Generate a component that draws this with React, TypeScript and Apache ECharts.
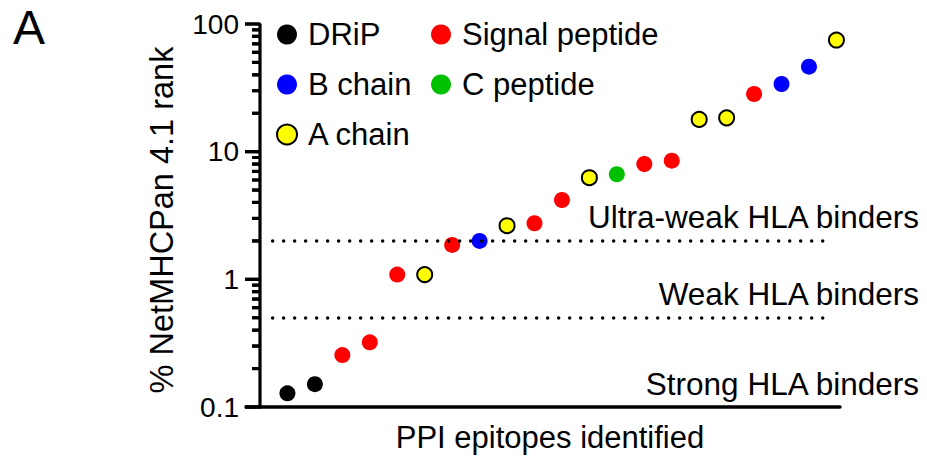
import React, { useEffect, useRef } from "react";
import * as echarts from "echarts";

const epitopeIndex = [1, 2, 3, 4, 5, 6, 7, 8, 9, 10, 11, 12, 13, 14, 15, 16, 17, 18, 19, 20, 21];
const rankValues = [0.128, 0.151, 0.255, 0.321, 1.09, 1.09, 1.86, 2.0, 2.63, 2.75, 4.18, 6.25, 6.65, 8.0, 8.5, 17.9, 18.4, 28.3, 33.9, 46.3, 74.9];
const regions = [
  "DRiP", "DRiP", "Signal peptide", "Signal peptide", "Signal peptide", "A chain",
  "Signal peptide", "B chain", "A chain", "Signal peptide", "Signal peptide", "A chain",
  "C peptide", "Signal peptide", "Signal peptide", "A chain", "A chain", "Signal peptide",
  "B chain", "B chain", "A chain",
];
const groupNames = ["DRiP", "B chain", "A chain", "Signal peptide", "C peptide"];
const groupColors = ["#000000", "#0000ff", "#ffff00", "#ff0000", "#00c000"];
const thresholds = [2, 0.5];
const majorTickValues = [0.1, 1, 10, 100];
const minorTickValues = [0.2, 0.3, 0.4, 0.5, 0.6, 0.7, 0.8, 0.9, 2, 3, 4, 5, 6, 7, 8, 9, 20, 30, 40, 50, 60, 70, 80, 90];
const yTickLabels = ["0.1", "1", "10", "100"];

const FONT = "'Liberation Sans', Arial, Helvetica, sans-serif";

// x-axis starts a little left of the y axis (x = 0) so the outward ticks fit in the grid
const X_MIN = -0.51;

export default function App() {
  const ref = useRef<HTMLDivElement>(null);
  useEffect(() => {
    if (!ref.current) return;
    const chart = echarts.init(ref.current, null, { renderer: "svg" });
    const groupSeries = groupNames.map((name, gi) => ({
      name,
      type: "scatter",
      symbol: "circle",
      symbolSize: name === "A chain" ? 15 : 16,
      itemStyle: {
        color: groupColors[gi],
        opacity: 1,
        borderColor: name === "A chain" ? "#000" : groupColors[gi],
        borderWidth: name === "A chain" ? 2 : 0,
      },
      data: epitopeIndex
        .map((x, i) => (regions[i] === name ? [x, rankValues[i]] : null))
        .filter((d) => d !== null),
      z: 3,
    }));
    const legendBase = {
      orient: "vertical",
      top: 19,
      padding: 0,
      itemGap: 19,
      itemWidth: 20,
      itemHeight: 20,
      icon: "circle",
      selectedMode: false,
      textStyle: { fontSize: 31, color: "#000", fontFamily: FONT, padding: [0, 0, 0, 6] },
    };
    const staticGraphics: any[] = [
      {
        type: "text",
        left: 13,
        top: 3,
        style: { text: "A", fontSize: 48, fill: "#000", fontFamily: FONT },
      },
      {
        type: "text",
        x: 162,
        y: 220,
        rotation: Math.PI / 2,
        style: {
          text: "% NetMHCPan 4.1 rank",
          fontSize: 32.5,
          fill: "#000",
          fontFamily: FONT,
          align: "center",
          verticalAlign: "middle",
        },
      },
      {
        type: "text",
        x: 919,
        y: 217,
        style: { text: "Ultra-weak HLA binders", fontSize: 31.5, fill: "#000", fontFamily: FONT, align: "right", verticalAlign: "middle" },
      },
      {
        type: "text",
        x: 919,
        y: 294,
        style: { text: "Weak HLA binders", fontSize: 31.5, fill: "#000", fontFamily: FONT, align: "right", verticalAlign: "middle" },
      },
      {
        type: "text",
        x: 919,
        y: 384,
        style: { text: "Strong HLA binders", fontSize: 31.5, fill: "#000", fontFamily: FONT, align: "right", verticalAlign: "middle" },
      },
    ];
    const option: any = {
      animation: false,
      textStyle: { fontFamily: FONT },
      grid: { left: 246, right: 87, top: 24, bottom: 53 },
      legend: [
        { ...legendBase, data: ["DRiP", "B chain", "A chain"], left: 276 },
        { ...legendBase, data: ["Signal peptide", "C peptide"], left: 431 },
      ],
      xAxis: {
        type: "value",
        min: X_MIN,
        max: 21.13,
        name: "PPI epitopes identified",
        nameLocation: "middle",
        nameGap: 15,
        nameTextStyle: { fontSize: 31, color: "#000", fontFamily: FONT, padding: [0, 0, 0, 14] },
        axisLine: { show: true, onZero: false, lineStyle: { color: "#000", width: 3.5 } },
        axisTick: { show: false },
        axisLabel: { show: false },
        splitLine: { show: false },
      },
      yAxis: {
        type: "log",
        logBase: 10,
        min: 0.1,
        max: 100,
        axisLine: { show: false },
        axisTick: { show: false },
        axisLabel: {
          show: true,
          fontSize: 28,
          color: "#000",
          fontFamily: FONT,
          margin: 7,
          formatter: (v: number) => {
            const idx = Math.round(Math.log10(v)) + 1;
            return yTickLabels[idx] ?? String(v);
          },
        },
        splitLine: { show: false },
      },
      graphic: staticGraphics,
      series: [
        ...groupSeries,
        {
          name: "thresholds",
          type: "scatter",
          data: [],
          markLine: {
            silent: true,
            symbol: "none",
            label: { show: false },
            lineStyle: { color: "#000", width: 3.5, type: [0.001, 11], cap: "round" },
            data: thresholds.map((t) => [{ coord: [0.46, t] }, { coord: [20.66, t] }]),
          },
        },
      ],
    };
    chart.setOption(option);

    // y-axis line with its major and minor ticks, positioned through the chart's own scales
    const toPx = (v: number) => chart.convertToPixel({ gridIndex: 0 }, [0, v]) as number[];
    const allTicks = [
      ...majorTickValues.map((v) => ({ v, len: 15 })),
      ...minorTickValues.map((v) => ({ v, len: 8 })),
    ].sort((a, b) => a.v - b.v);
    const pts: number[][] = [];
    allTicks.forEach(({ v, len }, i) => {
      const p = toPx(v);
      if (i === 0) pts.push([p[0], p[1] + 1.5]);
      pts.push([p[0], p[1]]);
      pts.push([p[0] - len, p[1]]);
      pts.push([p[0], p[1]]);
    });
    const tickRects = allTicks.map(({ v, len }) => {
      const p = toPx(v);
      return {
        type: "rect",
        zlevel: 5,
        z: 200,
        shape: { x: p[0] - len, y: p[1] - 1.5, width: len, height: 3 },
        style: { fill: "#000" },
      };
    });
    const axisGraphic = {
      type: "polyline",
      zlevel: 5,
      z: 200,
      shape: { points: pts },
      style: { stroke: "#000", lineWidth: 3.2, fill: null, lineJoin: "bevel", lineCap: "butt" },
    };
    chart.setOption({ graphic: [...staticGraphics, axisGraphic, ...tickRects] });
    return () => chart.dispose();
  }, []);
  return (
    <div
      ref={ref}
      style={{ position: "absolute", left: 0, top: 0, width: 927, height: 460, background: "#fff" }}
    />
  );
}
